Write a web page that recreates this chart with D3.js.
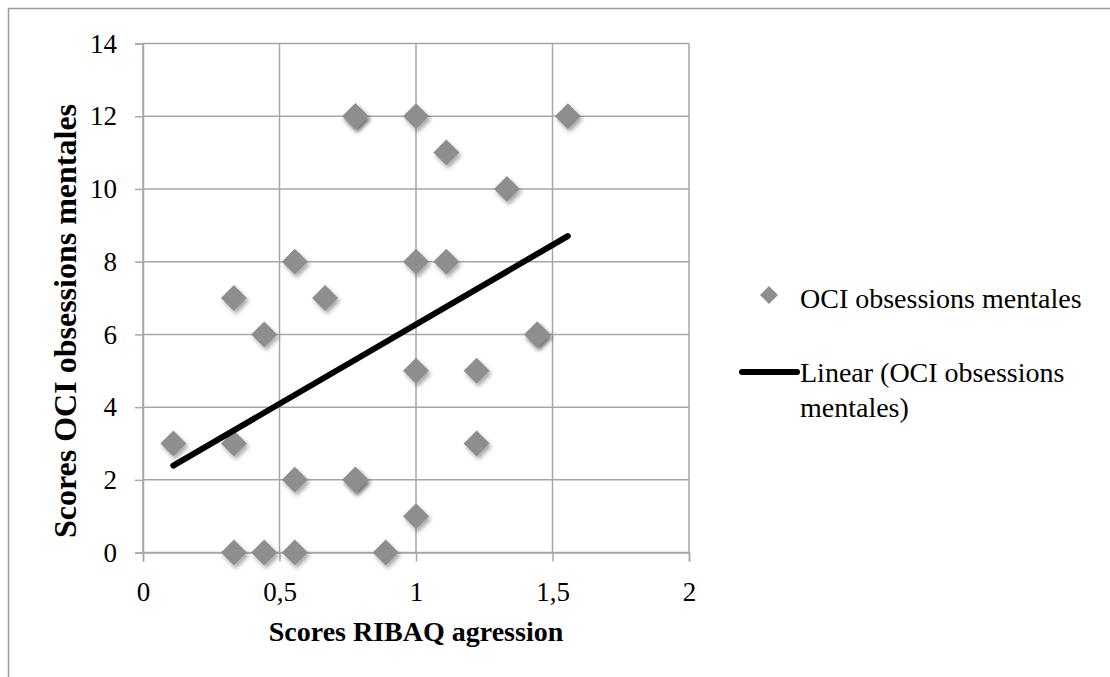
<!DOCTYPE html>
<html>
<head>
<meta charset="utf-8">
<script src="https://cdn.jsdelivr.net/npm/d3@7"></script>
<style>
  body { margin: 0; background: #fff; }
  text { font-family: "Liberation Serif", "DejaVu Serif", serif; fill: #000; }
</style>
</head>
<body>
<div id="chart"></div>
<script>
// RIBAQ agression vs OCI obsessions mentales (scatter + linear trend)
const ribaq = [0.111, 0.333, 0.333, 0.333, 0.444, 0.444, 0.556, 0.556, 0.556, 0.667,
  0.778, 0.778, 0.778, 0.778, 0.889, 1, 1, 1, 1, 1.111, 1.111, 1.222, 1.222, 1.333,
  1.444, 1.444, 1.556];
const oci = [3, 7, 3, 0, 6, 0, 8, 2, 0, 7,
  12, 12, 2, 2, 0, 12, 8, 5, 1, 11, 8, 5, 3, 10,
  6, 6, 12];
const xTicks = [0, 0.5, 1, 1.5, 2];
const yTicks = [0, 2, 4, 6, 8, 10, 12, 14];
const seriesName = 'OCI obsessions mentales';
const trendName = ['Linear (OCI obsessions', 'mentales)'];

const W = 1110, H = 677;
const plot = { left: 143, right: 689, top: 43.5, bottom: 552.6 };
const gridColor = '#a6a6a6';

const svg = d3.select('#chart').append('svg')
  .attr('width', W).attr('height', H);

const defs = svg.append('defs');
const f = defs.append('filter').attr('id', 'shadow')
  .attr('x', '-50%').attr('y', '-50%').attr('width', '200%').attr('height', '200%');
f.append('feDropShadow').attr('dx', 2).attr('dy', 3).attr('stdDeviation', 2)
  .attr('flood-color', '#000').attr('flood-opacity', 0.35);

// outer chart border (only top/left visible)
svg.append('rect')
  .attr('x', 8.5).attr('y', 8.5).attr('width', 1300).attr('height', 900)
  .attr('fill', 'none').attr('stroke', '#9a9a9a').attr('stroke-width', 1.5);

const x = d3.scaleLinear().domain([0, 2]).range([plot.left, plot.right]);
const y = d3.scaleLinear().domain([0, 14]).range([plot.bottom, plot.top]);

// gridlines
svg.append('g').selectAll('line.v').data(xTicks).enter().append('line')
  .attr('x1', d => x(d)).attr('x2', d => x(d))
  .attr('y1', plot.top).attr('y2', plot.bottom)
  .attr('stroke', gridColor).attr('stroke-width', 1.5);
svg.append('g').selectAll('line.h').data(yTicks).enter().append('line')
  .attr('x1', plot.left).attr('x2', plot.right)
  .attr('y1', d => y(d)).attr('y2', d => y(d))
  .attr('stroke', gridColor).attr('stroke-width', 1.5);

// axes
const fmt = d => String(d).replace('.', ',');
const xAxis = svg.append('g')
  .attr('transform', `translate(0,${plot.bottom})`)
  .call(d3.axisBottom(x).tickValues(xTicks).tickFormat(fmt).tickSize(9).tickPadding(20));
const yAxis = svg.append('g')
  .attr('transform', `translate(${plot.left},0)`)
  .call(d3.axisLeft(y).tickValues(yTicks).tickSize(8).tickPadding(18));
[xAxis, yAxis].forEach(a => {
  a.select('.domain').attr('stroke', gridColor).attr('stroke-width', 1.5);
  a.selectAll('.tick line').attr('stroke', gridColor).attr('stroke-width', 1.5);
  a.selectAll('.tick text').style('font-size', '27px')
    .style('font-family', '"Liberation Serif", serif').attr('fill', '#000');
});

// diamond markers
const pts = ribaq.map((v, i) => ({ x: v, y: oci[i] }));
const diamond = s => `M0,${-s}L${s},0L0,${s}L${-s},0Z`;
svg.append('g').selectAll('path').data(pts).enter().append('path')
  .attr('d', diamond(13))
  .attr('transform', d => `translate(${x(d.x)},${y(d.y)})`)
  .attr('fill', '#8e8e8e')
  .attr('filter', 'url(#shadow)');

// linear trend (least squares)
const mx = d3.mean(ribaq), my = d3.mean(oci);
const slope = d3.sum(pts, d => (d.x - mx) * (d.y - my)) / d3.sum(pts, d => (d.x - mx) ** 2);
const icpt = my - slope * mx;
const ext = d3.extent(ribaq);
svg.append('line')
  .attr('x1', x(ext[0])).attr('y1', y(icpt + slope * ext[0]))
  .attr('x2', x(ext[1])).attr('y2', y(icpt + slope * ext[1]))
  .attr('stroke', '#000').attr('stroke-width', 6).attr('stroke-linecap', 'round');

// axis titles
svg.append('text')
  .attr('x', (plot.left + plot.right) / 2).attr('y', 641)
  .attr('text-anchor', 'middle').style('font-size', '28px').style('font-weight', 'bold')
  .text('Scores RIBAQ agression');
svg.append('text')
  .attr('transform', 'translate(76,321) rotate(-90)')
  .attr('text-anchor', 'middle').style('font-size', '32px').style('font-weight', 'bold')
  .text('Scores OCI obsessions mentales');

// legend
const lg = svg.append('g');
lg.append('path').attr('d', diamond(9))
  .attr('transform', 'translate(769,295)').attr('fill', '#8e8e8e');
lg.append('text').attr('x', 800).attr('y', 308).style('font-size', '28px').text(seriesName);
lg.append('line').attr('x1', 742).attr('x2', 797).attr('y1', 372).attr('y2', 372)
  .attr('stroke', '#000').attr('stroke-width', 6).attr('stroke-linecap', 'round');
lg.selectAll('text.t').data(trendName).enter().append('text')
  .attr('x', 800).attr('y', (d, i) => 382 + i * 35)
  .style('font-size', '28px').text(d => d);
</script>
</body>
</html>
